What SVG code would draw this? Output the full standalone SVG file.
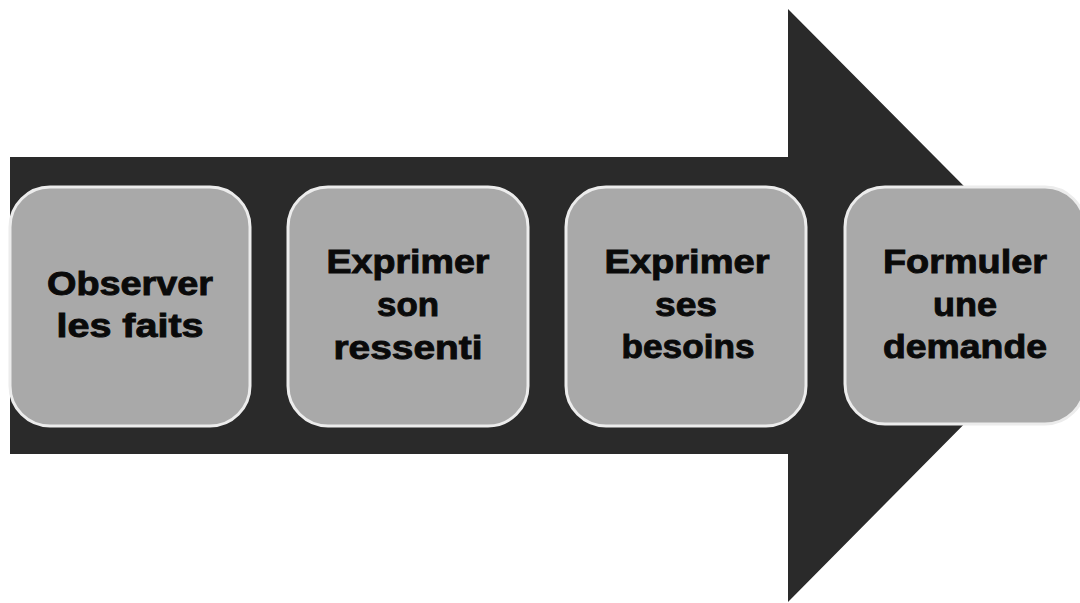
<svg xmlns="http://www.w3.org/2000/svg" width="1080" height="603" viewBox="0 0 1080 603">
  <style>
    .step { fill: #a9a9a9; stroke: #ececec; stroke-width: 3; }
    .label { font-family: "Liberation Sans", Arial, sans-serif; font-weight: bold; font-size: 33px; fill: #0a0a0a; stroke: #0a0a0a; stroke-width: 0.9; text-anchor: middle; }
  </style>
  <rect width="1080" height="603" fill="#ffffff"/>

  <!-- big process arrow behind the steps -->
  <g id="connectors">
    <polygon points="10,157 788,157 788,9 1082,305 788,602 788,454 10,454" fill="#2a2a2a"/>
  </g>

  <g id="step1">
    <rect class="step" x="10" y="187" width="240" height="239" rx="40" ry="40"/>
    <text class="label" x="130" y="295" textLength="166" lengthAdjust="spacingAndGlyphs">Observer</text>
    <text class="label" x="130" y="337" textLength="147" lengthAdjust="spacingAndGlyphs">les faits</text>
  </g>

  <g id="step2">
    <rect class="step" x="288" y="187" width="240" height="239" rx="40" ry="40"/>
    <text class="label" x="408" y="273" textLength="163" lengthAdjust="spacingAndGlyphs">Exprimer</text>
    <text class="label" x="408" y="316" textLength="62" lengthAdjust="spacingAndGlyphs">son</text>
    <text class="label" x="408" y="359" textLength="149" lengthAdjust="spacingAndGlyphs">ressenti</text>
  </g>

  <g id="step3">
    <rect class="step" x="566" y="187" width="240" height="239" rx="40" ry="40"/>
    <text class="label" x="687" y="273" textLength="165" lengthAdjust="spacingAndGlyphs">Exprimer</text>
    <text class="label" x="686" y="316" textLength="62" lengthAdjust="spacingAndGlyphs">ses</text>
    <text class="label" x="688" y="358" textLength="133" lengthAdjust="spacingAndGlyphs">besoins</text>
  </g>

  <g id="step4">
    <rect class="step" x="845" y="187" width="240" height="237" rx="40" ry="40"/>
    <text class="label" x="965" y="273" textLength="164" lengthAdjust="spacingAndGlyphs">Formuler</text>
    <text class="label" x="965" y="316" textLength="64" lengthAdjust="spacingAndGlyphs">une</text>
    <text class="label" x="965" y="358" textLength="164" lengthAdjust="spacingAndGlyphs">demande</text>
  </g>
</svg>
